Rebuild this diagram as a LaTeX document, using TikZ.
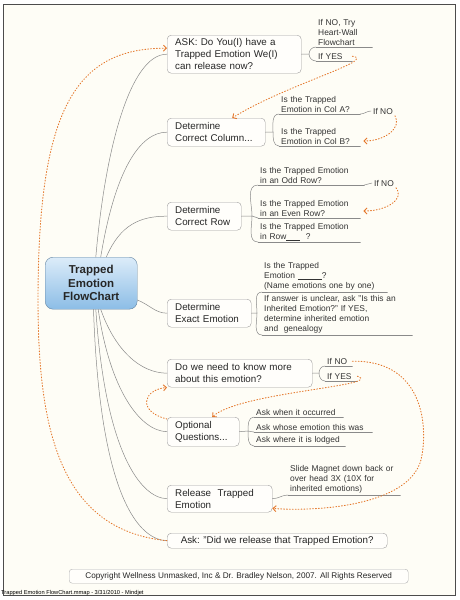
\documentclass[tikz,border=0pt]{standalone}
\usepackage{fontspec}
\setmainfont{Liberation Sans}
\usetikzlibrary{arrows.meta,calc,shadings}
\definecolor{paper}{HTML}{FEFDF6}
\definecolor{flow}{HTML}{E5782C}
\definecolor{edge}{HTML}{8A8A8A}
\definecolor{skyA}{HTML}{DCECF9}
\definecolor{skyB}{HTML}{8CBDE6}

\begin{document}
\begin{tikzpicture}[x=1pt,y=-1pt,line cap=round]
\tikzstyle{topic}=[draw=gray!75, rounded corners=4pt, fill=paper!40!white, anchor=north west, align=left, inner xsep=8pt, inner ysep=2pt, font=\fontsize{9.8}{12}\selectfont, text=black!85]
\tikzstyle{leaf}=[anchor=south west, align=left, inner xsep=2pt, inner ysep=1.5pt, font=\fontsize{8.4}{10}\selectfont, text=black!80]
\tikzstyle{link}=[draw=edge, line width=0.5pt]
\tikzstyle{jump}=[draw=flow, dotted, line width=0.9pt, -{Straight Barb[length=3pt,width=6pt]}]
\useasboundingbox (0,0) rectangle (460,600);
\fill[white] (0,0) rectangle (460,600);
\fill[paper] (3,4) rectangle (455,595);
\draw[black!70, line width=0.8pt] (3,4) rectangle (455,595);

\node[draw=skyB!70!black, rounded corners=8pt, top color=skyA, bottom color=skyB, anchor=north west, minimum width=92pt, minimum height=52pt, align=center, font=\bfseries\fontsize{11.5}{13.5}\selectfont, text=black!85] (root) at (45,257) {Trapped\\Emotion\\FlowChart};

\node[topic, text width=118pt, minimum height=38pt] (ask) at (167,35) {ASK: Do You(I) have a\\Trapped Emotion We(I)\\can release now?};
\node[topic, text width=82pt, minimum height=28pt] (col) at (167,118) {Determine\\Correct Column...};
\node[topic, text width=58pt, minimum height=28pt] (row) at (167,202) {Determine\\Correct Row};
\node[topic, text width=68pt, minimum height=28pt] (exact) at (167,299) {Determine\\Exact Emotion};
\node[topic, text width=129pt, minimum height=28pt] (more) at (167,359) {Do we need to know more\\about this emotion?};
\node[topic, text width=56pt, minimum height=29pt] (opt) at (167,417) {Optional\\Questions...};
\node[topic, text width=89pt, minimum height=27pt] (rel) at (167,485) {Release\ \ Trapped\\Emotion};
\node[topic, align=center, inner xsep=3pt, minimum width=220pt, minimum height=15pt] (did) at (167,533) {Ask: "Did we release that Trapped Emotion?};

\node[leaf, text width=52pt] (nohw) at (316,47) {If NO, Try\\Heart-Wall\\Flowchart};
\node[leaf, text width=32pt] (yes1) at (316,61) {If YES};
\node[leaf, text width=77pt] (cola) at (279,114) {Is the Trapped\\Emotion in Col A?};
\node[leaf, text width=77pt] (colb) at (279,146) {Is the Trapped\\Emotion in Col B?};
\node[leaf, anchor=west] (colno) at (371,111) {If NO};
\node[leaf, text width=102pt] (rowodd) at (258,185) {Is the Trapped Emotion\\in an Odd Row?};
\node[leaf, text width=98pt] (roweven) at (258,218) {Is the Trapped Emotion\\in an Even Row?};
\node[leaf, text width=98pt] (rowany) at (258,242) {Is the Trapped Emotion\\in Row\rule[-1pt]{14pt}{0.6pt}\ \ ?};
\node[leaf, anchor=west] (rowno) at (372,183) {If NO};
\node[leaf, text width=121pt] (exname) at (262,292) {Is the Trapped\\Emotion \rule[-1pt]{24pt}{0.9pt}?\\(Name emotions one by one)};
\node[leaf, text width=146pt] (exinh) at (262,335) {If answer is unclear, ask "Is this an\\Inherited Emotion?" If YES,\\determine inherited emotion\\and\ \ genealogy};
\node[leaf, text width=23pt] (moreno) at (325,366) {If NO};
\node[leaf, text width=28pt] (moreyes) at (325,381) {If YES};
\node[leaf, text width=85pt] (q1) at (254,417) {Ask when it occurred};
\node[leaf, text width=114pt] (q2) at (254,432) {Ask whose emotion this was};
\node[leaf, text width=87pt] (q3) at (254,446) {Ask where it is lodged};
\node[leaf, text width=108pt] (magnet) at (288,495) {Slide Magnet down back or\\over head 3X (10X for\\inherited emotions)};

\node[draw=gray!60, rounded corners=3pt, fill=paper!40!white, anchor=north west, minimum width=339pt, minimum height=14pt, inner sep=2pt, font=\fontsize{8.2}{10}\selectfont, text=black!85] (copy) at (69,569) {Copyright Wellness Unmasked, Inc \& Dr. Bradley Nelson, 2007. All Rights Reserved};
\node[anchor=base west, inner sep=0pt, font=\fontsize{5.7}{6}\selectfont] (foot) at (1,594) {Trapped Emotion FlowChart.mmap - 3/31/2010 - Mindjet};

\draw[link] (root.80) .. controls (105,150) and (130,54) .. (ask.west);
\draw[link] (root.70) .. controls (115,170) and (140,132) .. (col.west);
\draw[link] (root.60) .. controls (120,225) and (140,216) .. (row.west);
\draw[link] (root.-20) .. controls (150,305) and (155,313) .. (exact.west);
\draw[link] (root.-70) .. controls (115,350) and (140,373) .. (more.west);
\draw[link] (root.-75) .. controls (110,390) and (140,431) .. (opt.west);
\draw[link] (root.-80) .. controls (105,450) and (140,498) .. (rel.west);
\draw[link] (root.-85) .. controls (100,500) and (140,540) .. (did.west);

\coordinate (askb) at (309,54);
\coordinate (colbr) at (273,132);
\coordinate (rowb) at (252,216);
\coordinate (exb) at (257,313);
\coordinate (moreb) at (319,373);
\coordinate (optb) at (248,431);
\draw[link] (ask.east) -- (askb);
\draw[link] (askb) to[out=90,in=180] (nohw.south west);
\draw[link] (askb) to[out=-90,in=180] (yes1.south west);
\draw[link] (col.east) -- (colbr);
\draw[link] (colbr) to[out=90,in=180] (cola.south west);
\draw[link] (colbr) to[out=-90,in=180] (colb.south west);
\draw[link] (row.east) -- (rowb);
\draw[link] (rowb) to[out=90,in=180] (rowodd.south west);
\draw[link] (rowb) to[out=0,in=180] (roweven.south west);
\draw[link] (rowb) to[out=-90,in=180] (rowany.south west);
\draw[link] (exact.east) -- (exb);
\draw[link] (exb) to[out=90,in=180] (exname.south west);
\draw[link] (exb) to[out=-90,in=180] (exinh.south west);
\draw[link] (more.east) -- (moreb);
\draw[link] (moreb) to[out=90,in=180] (moreno.south west);
\draw[link] (moreb) to[out=-90,in=180] (moreyes.south west);
\draw[link] (opt.east) -- (optb);
\draw[link] (optb) to[out=90,in=180] (q1.south west);
\draw[link] (optb) to[out=0,in=180] (q2.south west);
\draw[link] (optb) to[out=-90,in=180] (q3.south west);
\draw[link] (rel.east) to[out=0,in=180] (magnet.south west);
\draw[link] (cola.south east) to[out=0,in=180] (colno.west);
\draw[link] (rowodd.south east) to[out=0,in=180] (rowno.west);
\foreach \n in {nohw,yes1,cola,colb,rowodd,roweven,rowany,exname,exinh,moreno,moreyes,q1,q2,q3,magnet}
	\draw[link] (\n.south west) -- (\n.south east);

\draw[jump] (yes1.east) .. controls (378,60) and (285,85) .. ([xshift=16pt]col.north);
\draw[jump] (colno.south east) .. controls (402,128) and (385,141) .. ([shift={(3pt,5pt)}]colb.south east);
\draw[jump] (rowno.south east) .. controls (405,198) and (388,211) .. ([shift={(3pt,7pt)}]roweven.south east);
\draw[jump] (moreno.east) .. controls (420,360) and (428,420) .. (422,455) .. controls (415,505) and (320,512) .. ([yshift=4pt]rel.south east);
\draw[jump] (moreyes.east) .. controls (385,386) and (240,392) .. ([xshift=9pt]opt.north);
\draw[jump] ([yshift=-2pt]opt.north west) .. controls (138,412) and (142,390) .. (more.south west);
\draw[jump] (did.west) .. controls (60,530) and (38,430) .. (38,300) .. controls (38,110) and (75,48) .. ([yshift=6pt]ask.west);
\end{tikzpicture}
\end{document}
